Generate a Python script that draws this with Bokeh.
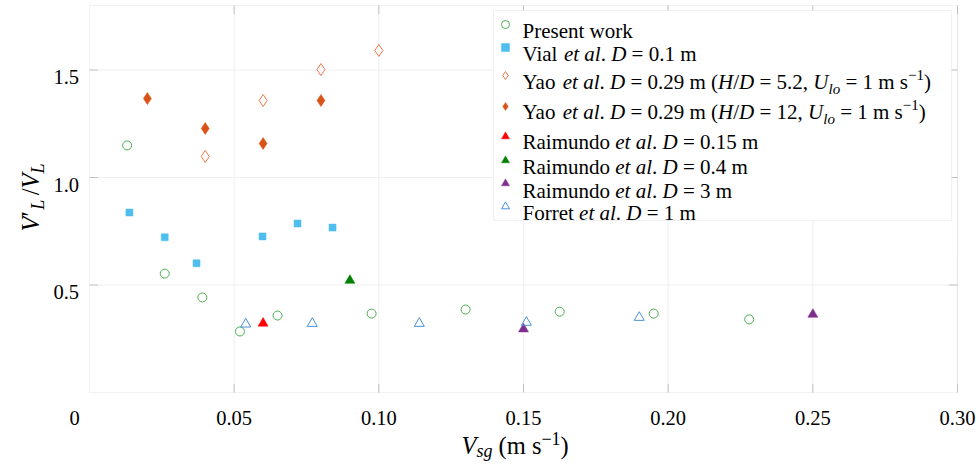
import math
from bokeh.plotting import figure
from bokeh.models import Range1d, Label, Legend, LegendItem, BoxAnnotation
from bokeh.embed import file_html
from bokeh.resources import INLINE

# ---------------- data ----------------
present_x = [0.013, 0.026, 0.039, 0.052, 0.065, 0.0975, 0.130, 0.1625, 0.195, 0.228]
present_y = [1.149, 0.553, 0.442, 0.284, 0.358, 0.367, 0.386, 0.376, 0.367, 0.340]

vial_x = [0.0138, 0.026, 0.037, 0.0598, 0.0719, 0.084]
vial_y = [0.837, 0.722, 0.601, 0.726, 0.786, 0.767]

yao52_x = [0.04, 0.06, 0.08, 0.10]
yao52_y = [1.098, 1.358, 1.502, 1.591]

yao12_x = [0.02, 0.04, 0.06, 0.08]
yao12_y = [1.367, 1.228, 1.158, 1.358]

raim015_x = [0.06]
raim015_y = [0.322]

raim04_x = [0.09]
raim04_y = [0.521]

raim3_x = [0.15, 0.25]
raim3_y = [0.295, 0.363]

forret_x = [0.054, 0.077, 0.114, 0.151, 0.19]
forret_y = [0.318, 0.321, 0.321, 0.326, 0.349]

x_ticks = [0.05, 0.10, 0.15, 0.20, 0.25, 0.30]
x_tick_labels = ["0.05", "0.10", "0.15", "0.20", "0.25", "0.30"]
y_ticks = [0.5, 1.0, 1.5]
y_tick_labels = ["0.5", "1.0", "1.5"]

# ---------------- layout constants ----------------
W, H = 980, 464
FL, FR, FT, FB = 89, 957, 5, 392          # plot-box pixel edges
X0, X1, Y0, Y1 = 0.0, 0.30, 0.0, 1.8      # plot-box value ranges
FONT = "Liberation Serif"
AXC = "#d4d4d4"
TICKC = "#c2c2c2"
GRIDC = "#eeeeee"


def px2x(px):
    return X0 + (px - FL) / (FR - FL) * (X1 - X0)


def px2y(py):
    return Y0 + (FB - py) / (FB - FT) * (Y1 - Y0)


# whole canvas is the frame; the plot box is drawn inside it
p = figure(width=W, height=H, x_range=Range1d(px2x(0), px2x(W)),
           y_range=Range1d(px2y(H), px2y(0)),
           output_backend="svg", toolbar_location=None,
           x_axis_location=None, y_axis_location=None,
           min_border=0, min_border_left=0, min_border_right=0,
           min_border_top=0, min_border_bottom=0)
p.background_fill_color = "white"
p.border_fill_color = "white"
p.outline_line_color = None
p.grid.visible = False

# grid lines
p.segment(x0=x_ticks, y0=[Y0] * len(x_ticks), x1=x_ticks, y1=[Y1] * len(x_ticks),
          line_color=GRIDC, line_width=1, level="underlay")
p.segment(x0=[X0] * len(y_ticks), y0=y_ticks, x1=[X1] * len(y_ticks), y1=y_ticks,
          line_color=GRIDC, line_width=1, level="underlay")

# plot box
p.add_layout(BoxAnnotation(left=X0, right=X1, bottom=Y0, top=Y1, fill_alpha=0,
                           line_color=AXC, line_width=1.2, level="underlay"))

# inward ticks on all four sides
TL = 8.5
p.ray(x=x_ticks, y=[Y0] * len(x_ticks), length=TL, length_units="screen",
      angle=math.pi / 2, line_color=TICKC, line_width=1)
p.ray(x=x_ticks, y=[Y1] * len(x_ticks), length=TL, length_units="screen",
      angle=-math.pi / 2, line_color=TICKC, line_width=1)
p.ray(x=[X0] * len(y_ticks), y=y_ticks, length=TL, length_units="screen",
      angle=0, line_color=TICKC, line_width=1)
p.ray(x=[X1] * len(y_ticks), y=y_ticks, length=TL, length_units="screen",
      angle=math.pi, line_color=TICKC, line_width=1)

# ---------------- series ----------------
r_present = p.scatter(present_x, present_y, marker="circle", size=9, fill_color=None,
                      line_color="#4CAF50", line_width=1)
r_vial = p.scatter(vial_x, vial_y, marker="square", size=7, fill_color="#4DBEEE",
                   line_color="#4DBEEE", line_width=0.5)
r_yao52 = p.scatter(yao52_x, yao52_y, marker="diamond", size=12, fill_color=None,
                    line_color="#EE7A4A", line_width=1)
r_yao12 = p.scatter(yao12_x, yao12_y, marker="diamond", size=12, fill_color="#D95319",
                    line_color="#D95319", line_width=0.5)
r_r015 = p.scatter(raim015_x, raim015_y, marker="triangle", size=10, fill_color="#FF0000",
                   line_color="#FF0000", line_width=0.5)
r_r04 = p.scatter(raim04_x, raim04_y, marker="triangle", size=10, fill_color="#008000",
                  line_color="#008000", line_width=0.5)
r_r3 = p.scatter(raim3_x, raim3_y, marker="triangle", size=10, fill_color="#7E2F8E",
                 line_color="#7E2F8E", line_width=0.5)
r_forret = p.scatter(forret_x, forret_y, marker="triangle", size=10, fill_color=None,
                     line_color="#4A90D9", line_width=1)

# ---------------- legend (box + marker swatches) ----------------
p.add_layout(BoxAnnotation(left=px2x(493), right=px2x(951), top=px2y(10), bottom=px2y(220),
                           fill_color="white", fill_alpha=1.0, line_color="#cfcfcf",
                           line_width=1))
G = 20
MX = 505
row_renderers = [r_present, r_vial, r_yao52, r_yao12, r_r015, r_r04, r_r3, r_forret]
row_marker_px = [23.5, 46.5, 74.5, 106, 136, 160, 183, 205.5]
row_base_px = [30.7, 53.3, 81.7, 111.7, 141.7, 166.7, 190, 212.7]

for rend, cy in zip(row_renderers, row_marker_px):
    p.add_layout(Legend(items=[LegendItem(label=" ", renderers=[rend])],
                        location=(MX - G / 2, H - (cy + G / 2)),
                        padding=0, margin=0, spacing=0, glyph_width=G, glyph_height=G,
                        label_width=0, label_height=G, label_standoff=0,
                        label_text_font=FONT, label_text_font_size="1px",
                        border_line_color=None, background_fill_alpha=0.0))

# opaque white strips under the axis texts (outside the plot box)
p.add_layout(BoxAnnotation(left=px2x(0), right=px2x(88), top=px2y(0), bottom=px2y(H),
                           fill_color="white", fill_alpha=1.0, line_color=None))
p.add_layout(BoxAnnotation(left=px2x(0), right=px2x(W), top=px2y(393.5), bottom=px2y(H),
                           fill_color="white", fill_alpha=1.0, line_color=None))

# ---------------- rich text helper ----------------
REG = {' ': 250, '(': 333, ')': 333, ',': 250, '.': 250, '/': 278, '=': 564, 'D': 722,
       'F': 556, 'P': 556, 'R': 667, 'V': 722, 'Y': 722, 'a': 444, 'd': 500, 'e': 444,
       'i': 278, 'k': 500, 'l': 278, 'm': 778, 'n': 500, 'o': 500, 'r': 333, 's': 389,
       't': 278, 'u': 500, 'w': 722, '\u2212': 564, '\u2032': 275}
for d in "0123456789":
    REG[d] = 500
ITA = {' ': 250, 'e': 444, 't': 278, 'a': 500, 'l': 278, 'D': 722, 'H': 722, 'U': 722,
       'V': 611, 'L': 556, 's': 389, 'g': 500, 'o': 500, '/': 278, '\u2032': 275}


def tw(s, italic, size):
    tab = ITA if italic else REG
    return sum(tab.get(c, 500) for c in s) / 1000.0 * size


def text_label(x, y, xo, yo, body, size, italic=False, align="left", ang=0.0):
    p.add_layout(Label(x=x, y=y, x_offset=xo, y_offset=yo, text=body, angle=ang,
                       text_font=FONT, text_font_size=f"{size}px",
                       text_font_style="italic" if italic else "normal",
                       text_color="black", text_align=align,
                       text_baseline="alphabetic"))


def rich(x_px, y_px, segs, rotated=False):
    """segs: (text, italic, size, shift_up_px); x_px, y_px = baseline start (canvas px)."""
    pos = 0.0
    for text, it, size, shift in segs:
        stripped = text.lstrip(" ")
        lead = tw(text[:len(text) - len(stripped)], it, size)
        body = stripped.rstrip(" ")
        if body:
            if not rotated:
                text_label(X0, Y0, x_px - FL + pos + lead, FB - y_px + shift, body, size, it)
            else:
                text_label(X0, Y0, x_px - FL - shift, FB - y_px + pos + lead, body, size, it,
                           ang=math.pi / 2)
        pos += tw(text, it, size)


def et(name, rest):
    return [(name + " ", False, 21, 0), ("et al", True, 21, 0), (". ", False, 21, 0),
            ("D", True, 21, 0), (rest, False, 21, 0)]


def yao(hd):
    return et("Yao", " = 0.29 m (") + [("H", True, 21, 0), ("/", False, 21, 0),
                                       ("D", True, 21, 0), (f" = {hd}, ", False, 21, 0),
                                       ("U", True, 21, 0), ("lo", True, 15, -7),
                                       (" = 1 m s", False, 21, 0), ("\u22121", False, 15, 7),
                                       (")", False, 21, 0)]


row_texts = [
    [("Present work", False, 21, 0)],
    et("Vial", " = 0.1 m"),
    yao("5.2"),
    yao("12"),
    et("Raimundo", " = 0.15 m"),
    et("Raimundo", " = 0.4 m"),
    et("Raimundo", " = 3 m"),
    et("Forret", " = 1 m"),
]
for base, segs in zip(row_base_px, row_texts):
    rich(522, base, segs)

# tick labels
TS = 20.5
for t, lab in zip(x_ticks, x_tick_labels):
    text_label(t, Y0, 0, FB - 417, lab, TS, align="center")
for t, lab in zip(y_ticks, y_tick_labels):
    text_label(X0, t, 78.5 - FL, -7, lab, TS, align="right")
# origin "0" shared by both axes
text_label(X0, Y0, 74 - FL, FB - 417, "0", TS, align="center")

# axis titles
rich(461, 445, [("V", True, 24.5, 0), ("sg", True, 18, -5), (" (m s", False, 24.5, 0),
                ("\u22121", False, 18, 7), (")", False, 24.5, 0)])
rich(30, 231, [("V", True, 24.5, 0), ("\u2032", False, 24.5, 0), ("L", True, 18, -7),
               (" ", False, 18, 0), ("/", False, 24.5, 0), ("V", True, 24.5, 0),
               ("L", True, 18, -7)], rotated=True)

open("out.html", "w").write(file_html(p, INLINE))
